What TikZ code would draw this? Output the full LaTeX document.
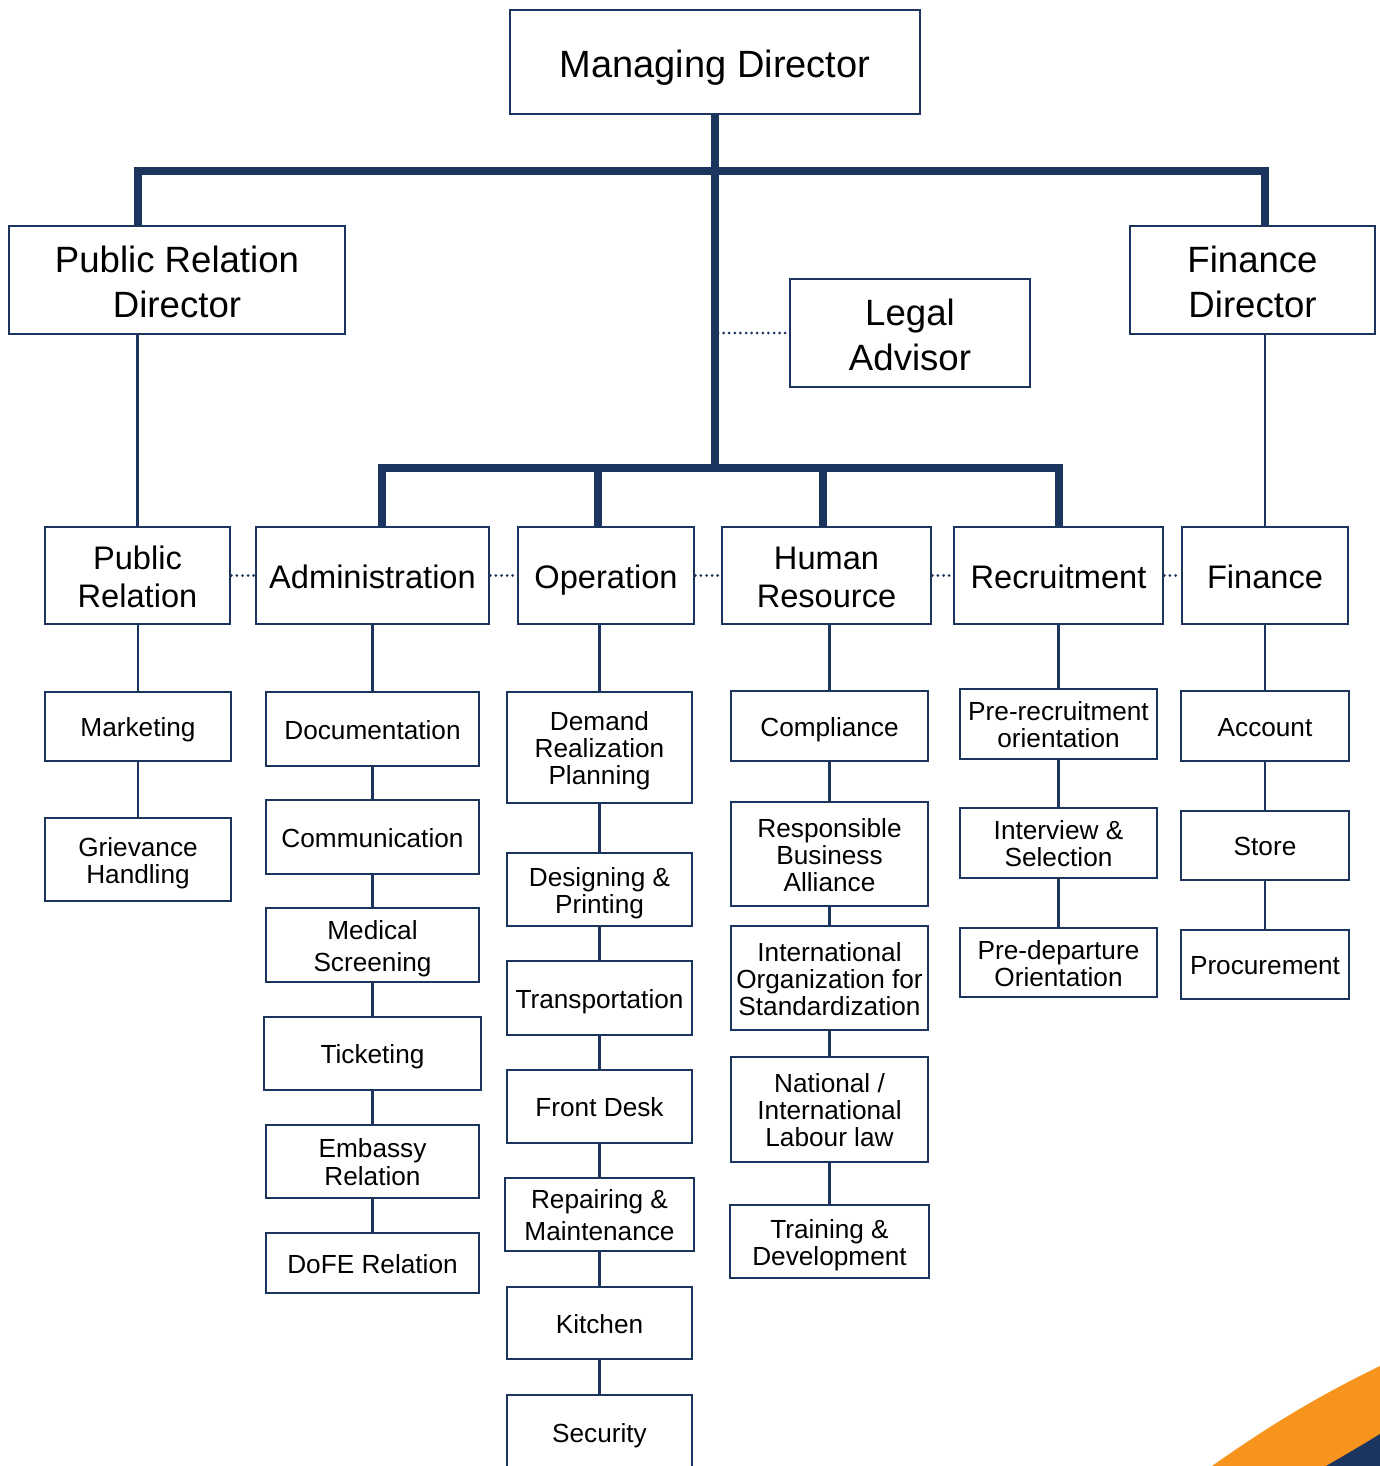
\documentclass[tikz,border=0pt]{standalone}
\usepackage{fontspec}
\setmainfont{Liberation Sans}
\definecolor{navy}{HTML}{1C355E}
\definecolor{org}{HTML}{F7941D}
\newcommand\fs[2]{\fontsize{#1}{#2}\selectfont\lineskiplimit=-100pt\lineskip=0pt}
\tikzset{
  box/.style={draw=navy, line width=1.3pt, fill=white, align=center, inner sep=1pt, text=black},
  big/.style={font=\fs{18.3}{22.5}},
  mid/.style={font=\fs{16.3}{18.7}},
  sm/.style={font=\fs{13.1}{13.5}},
  thk/.style={draw=navy, line width=4pt, line join=miter},
  thn/.style={draw=navy, line width=1.3pt},
  dots/.style={draw=navy, line width=1.5pt, dash pattern=on 0pt off 2.8pt, line cap=round}
}
\newcommand\st{\rule[-0.25em]{0pt}{1.3em}}
\newcommand\bx[7]{\node[box,#1,minimum width={(#5-#3)*0.5pt},minimum height={(#6-#4)*0.5pt}] (#2) at ({(#3+#5)/2},{(#4+#6)/2}) {\st #7\st};}
\newcommand\vl[2]{\draw[thn] (#2.north |- #1.south) -- (#2.north);}
\begin{document}
\begin{tikzpicture}[x=0.5pt,y=-0.5pt]
\clip (0,0) rectangle (1380,1466);
\fill[white] (0,0) rectangle (1380,1466);
% corner decoration
\fill[org] (1212,1466) .. controls (1270,1425) and (1320,1395) .. (1380,1366) -- (1380,1466) -- cycle;
\fill[navy] (1326,1466) .. controls (1345,1455) and (1362,1445) .. (1380,1434) -- (1380,1466) -- cycle;
% top level
\bx{font=\fs{19}{23}}{md}{510}{10}{920}{114}{Managing Director}
\bx{big}{prd}{9}{226}{345}{334}{Public Relation\\Director}
\bx{big}{fd}{1130}{226}{1375}{334}{Finance\\Director}
\bx{big}{legal}{790}{279}{1030}{387}{Legal\\Advisor}
% row
\bx{mid}{pr}{45}{527}{230}{624}{Public\\Relation}
\bx{mid}{adm}{256}{527}{489}{624}{Administration}
\bx{mid}{op}{518}{527}{694}{624}{Operation}
\bx{mid}{hr}{722}{527}{931}{624}{Human\\Resource}
\bx{mid}{rec}{954}{527}{1163}{624}{Recruitment}
\bx{mid}{fin}{1182}{527}{1348}{624}{Finance}
% public relation column
\bx{sm}{mkt}{45}{692}{231}{761}{Marketing}
\bx{sm}{grv}{45}{818}{231}{901}{Grievance\\Handling}
% administration column
\bx{sm}{doc}{266}{692}{479}{766}{Documentation}
\bx{sm}{com}{266}{800}{479}{874}{Communication}
\bx{sm,font=\fs{13.1}{16}}{med}{266}{908}{479}{982}{Medical\\Screening}
\bx{sm}{tic}{264}{1017}{481}{1090}{Ticketing}
\bx{sm,font=\fs{13.1}{14}}{emb}{266}{1125}{479}{1198}{Embassy\\Relation}
\bx{sm}{dofe}{266}{1233}{479}{1293}{DoFE Relation}
% operation column
\bx{sm}{dem}{507}{692}{692}{803}{Demand\\Realization\\Planning}
\bx{sm}{des}{507}{853}{692}{926}{Designing \&\\Printing}
\bx{sm}{tra}{507}{961}{692}{1035}{Transportation}
\bx{sm}{fro}{507}{1070}{692}{1143}{Front Desk}
\bx{sm,font=\fs{13.1}{16}}{rep}{505}{1178}{694}{1251}{Repairing \&\\Maintenance}
\bx{sm}{kit}{507}{1287}{692}{1359}{Kitchen}
\bx{sm}{sec}{507}{1395}{692}{1470}{Security}
% human resource column
\bx{sm}{cmp}{731}{691}{928}{761}{Compliance}
\bx{sm}{rba}{731}{802}{928}{906}{Responsible\\Business\\Alliance}
\bx{sm}{iso}{731}{926}{928}{1030}{International\\Organization for\\Standardization}
\bx{sm}{nil}{731}{1057}{928}{1162}{National /\\International\\Labour law}
\bx{sm}{trn}{730}{1205}{929}{1278}{Training \&\\Development}
% recruitment column
\bx{sm}{prr}{960}{689}{1157}{759}{Pre-recruitment\\orientation}
\bx{sm}{int}{960}{808}{1157}{878}{Interview \&\\Selection}
\bx{sm}{pdo}{960}{928}{1157}{997}{Pre-departure\\Orientation}
% finance column
\bx{sm}{acc}{1181}{691}{1349}{761}{Account}
\bx{sm}{sto}{1181}{811}{1349}{880}{Store}
\bx{sm}{pro}{1181}{930}{1349}{999}{Procurement}
% thick connectors
\coordinate (h1) at (715,171);
\coordinate (h2) at (715,468);
\draw[thk] (md.south) -- (h2);
\draw[thk] (pr.north |- prd.north) |- (h1) -| (fin.north |- fd.north);
\draw[thk] ([xshift=4.75pt]adm.north) |- (h2) -| (rec.north);
\draw[thk] ([xshift=-4pt]op.north) -- ([xshift=-4pt]op.north |- h2);
\draw[thk] ([xshift=-1.75pt]hr.north) -- ([xshift=-1.75pt]hr.north |- h2);
% thin connectors
\draw[thn] (pr.north |- prd.south) -- (pr.north);
\draw[thn] (fin.north |- fd.south) -- (fin.north);
\vl{pr}{mkt}\vl{mkt}{grv}
\vl{adm}{doc}\vl{doc}{com}\vl{com}{med}\vl{med}{tic}\vl{tic}{emb}\vl{emb}{dofe}
\vl{op}{dem}\vl{dem}{des}\vl{des}{tra}\vl{tra}{fro}\vl{fro}{rep}\vl{rep}{kit}\vl{kit}{sec}
\vl{hr}{cmp}\vl{cmp}{rba}\vl{rba}{iso}\vl{iso}{nil}\vl{nil}{trn}
\vl{rec}{prr}\vl{prr}{int}\vl{int}{pdo}
\vl{fin}{acc}\vl{acc}{sto}\vl{sto}{pro}
% dotted connectors
\draw[dots] ([xshift=1.5pt]md.south |- legal.west) -- (legal.west);
\draw[dots] (pr.east) -- (adm.west);
\draw[dots] (adm.east) -- (op.west);
\draw[dots] (op.east) -- (hr.west);
\draw[dots] (hr.east) -- (rec.west);
\draw[dots] (rec.east) -- (fin.west);
\end{tikzpicture}
\end{document}
